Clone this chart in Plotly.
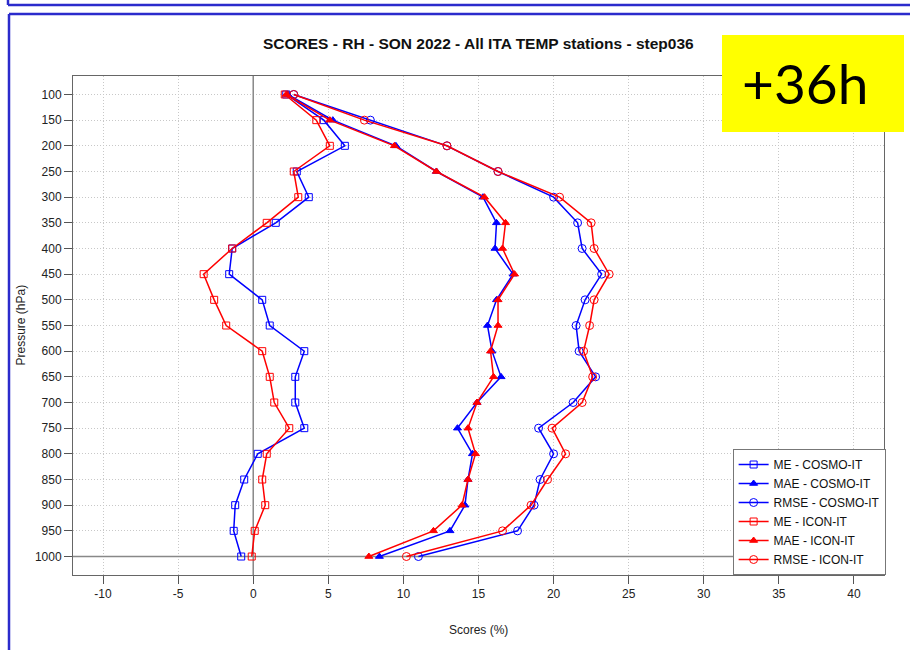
import plotly.graph_objects as go

pressure = [100, 150, 200, 250, 300, 350, 400, 450, 500, 550, 600, 650, 700, 750, 800, 850, 900, 950, 1000]

me_cosmo = [2.2, 4.7, 6.1, 2.9, 3.7, 1.5, -1.4, -1.6, 0.6, 1.1, 3.4, 2.8, 2.8, 3.4, 0.3, -0.6, -1.2, -1.3, -0.8]
mae_cosmo = [2.3, 5.3, 9.5, 12.2, 15.3, 16.2, 16.1, 17.3, 16.2, 15.6, 15.9, 16.5, 14.9, 13.6, 14.6, 14.3, 14.1, 13.1, 8.4]
rmse_cosmo = [2.7, 7.8, 12.9, 16.3, 20.0, 21.6, 21.9, 23.2, 22.1, 21.5, 21.7, 22.8, 21.3, 19.0, 20.0, 19.1, 18.7, 17.6, 11.0]
me_icon = [2.1, 4.2, 5.1, 2.7, 3.0, 0.9, -1.4, -3.3, -2.6, -1.8, 0.6, 1.1, 1.4, 2.4, 0.9, 0.6, 0.8, 0.1, -0.1]
mae_icon = [2.2, 5.1, 9.4, 12.2, 15.4, 16.8, 16.6, 17.4, 16.3, 16.3, 15.8, 16.0, 14.9, 14.3, 14.8, 14.3, 13.9, 12.0, 7.7]
rmse_icon = [2.7, 7.4, 12.9, 16.3, 20.4, 22.5, 22.7, 23.7, 22.7, 22.4, 22.0, 22.6, 21.9, 19.9, 20.8, 19.6, 18.5, 16.6, 10.2]

x_ticks = [-10, -5, 0, 5, 10, 15, 20, 25, 30, 35, 40]

series = [
    ("ME - COSMO-IT", me_cosmo, "#0000ff", "square-open", 7),
    ("MAE - COSMO-IT", mae_cosmo, "#0000ff", "triangle-up", 7),
    ("RMSE - COSMO-IT", rmse_cosmo, "#0000ff", "circle-open", 8),
    ("ME - ICON-IT", me_icon, "#ff0000", "square-open", 7),
    ("MAE - ICON-IT", mae_icon, "#ff0000", "triangle-up", 7),
    ("RMSE - ICON-IT", rmse_icon, "#ff0000", "circle-open", 8),
]

FONT = "Liberation Sans, Arial, Helvetica, sans-serif"

fig = go.Figure()
for name, vals, color, sym, size in series:
    fig.add_trace(go.Scatter(
        x=vals, y=pressure, mode="lines+markers", name=name,
        line=dict(color=color, width=1.5),
        marker=dict(symbol=sym, size=size, color=color, line=dict(color=color, width=1)),
    ))

# plot area: x 73..884, y 76..575
L, R, T, B = 73, 884, 76, 575
W, H = 910, 650
X_RANGE = [-12, 42]
Y_RANGE = [1036, 64]
def px(x):
    return (x - L) / (R - L)
def py(y):
    return (B - y) / (B - T)

shapes = [
    # reference lines (zero score, surface level)
    dict(type="line", xref="x", yref="y", x0=0, x1=0, y0=Y_RANGE[0], y1=Y_RANGE[1],
         line=dict(color="#888888", width=1.5), layer="between"),
    dict(type="line", xref="x", yref="y", x0=X_RANGE[0], x1=X_RANGE[1], y0=1000, y1=1000,
         line=dict(color="#888888", width=1.5), layer="between"),
    # slide frames
    dict(type="line", xref="paper", yref="paper", x0=px(8), x1=px(915), y0=py(5), y1=py(5),
         line=dict(color="#2b2bcc", width=2.5)),
    dict(type="line", xref="paper", yref="paper", x0=px(8), x1=px(8), y0=py(-5), y1=py(5),
         line=dict(color="#2b2bcc", width=2.5)),
    dict(type="line", xref="paper", yref="paper", x0=px(9), x1=px(915), y0=py(14), y1=py(14),
         line=dict(color="#2b2bcc", width=2.5)),
    dict(type="line", xref="paper", yref="paper", x0=px(9), x1=px(9), y0=py(14), y1=py(655),
         line=dict(color="#2b2bcc", width=2.5)),
    # yellow box
    dict(type="rect", xref="paper", yref="paper", x0=px(722), x1=px(904), y0=py(132), y1=py(35),
         fillcolor="#ffff00", line=dict(width=0)),
]

annotations = [
    dict(text="+36h", xref="paper", yref="paper", x=px(805), y=py(83), showarrow=False,
         xanchor="center", yanchor="middle", font=dict(family="Lato, Open Sans, sans-serif", size=55, color="black")),
    dict(text="Scores (%)", xref="paper", yref="paper", x=0.5, y=py(630), showarrow=False,
         xanchor="center", yanchor="middle", font=dict(family=FONT, size=12, color="#222222")),
    dict(text="Pressure (hPa)", xref="paper", yref="paper", x=px(20), y=0.5, showarrow=False,
         textangle=-90, xanchor="center", yanchor="middle", font=dict(family=FONT, size=12, color="#222222")),
    dict(text="<b>SCORES - RH - SON 2022 - All ITA TEMP stations - step036</b>", xref="paper", yref="paper",
         x=0.5, y=py(44), showarrow=False, xanchor="center", yanchor="middle",
         font=dict(family=FONT, size=15.5, color="#111111")),
]

fig.update_layout(
    width=W, height=H,
    margin=dict(l=L, r=W - R, t=T, b=H - B),
    paper_bgcolor="white", plot_bgcolor="white",
    font=dict(family=FONT, size=12, color="#222222"),
    showlegend=True,
    legend=dict(x=1.002, y=0, xanchor="right", yanchor="bottom",
                bordercolor="#777777", borderwidth=1, bgcolor="white",
                font=dict(family=FONT, size=12, color="#111111"),
                tracegroupgap=0, itemwidth=30),
    shapes=shapes,
    annotations=annotations,
)

fig.update_xaxes(range=X_RANGE, tickvals=x_ticks, ticktext=[str(v) for v in x_ticks],
                 ticks="outside", ticklen=8, tickcolor="#555555",
                 showgrid=True, gridcolor="#c8c8c8", griddash="1px,2px", gridwidth=1,
                 showline=True, linecolor="#666666", linewidth=1, mirror=True,
                 zeroline=False, tickfont=dict(size=12, color="#222222"))
fig.update_yaxes(range=Y_RANGE, tickvals=pressure, ticktext=[str(v) for v in pressure],
                 ticks="outside", ticklen=8, tickcolor="#555555",
                 showgrid=True, gridcolor="#c8c8c8", griddash="1px,2px", gridwidth=1,
                 showline=True, linecolor="#666666", linewidth=1, mirror=True,
                 zeroline=False, tickfont=dict(size=12, color="#222222"))

fig.write_html("out.html", config={"displayModeBar": False},
               post_script="document.body.style.margin='0';document.body.style.overflow='hidden';")
